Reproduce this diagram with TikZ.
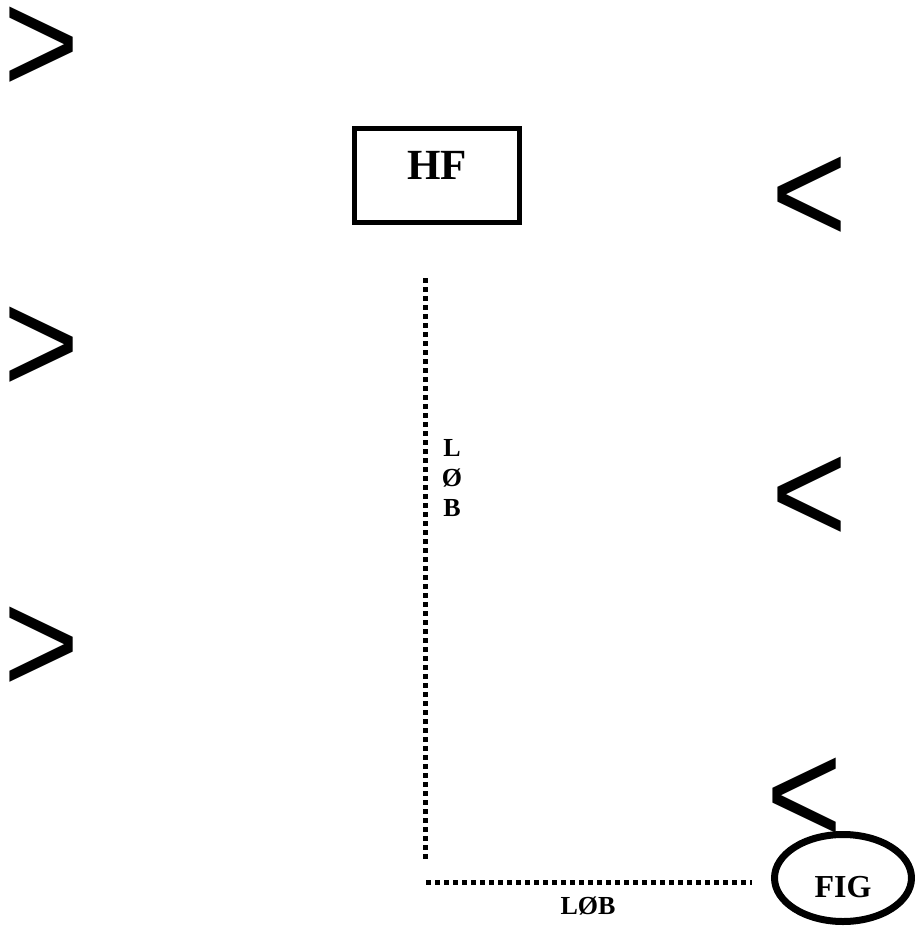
\documentclass[tikz,border=0pt]{standalone}
\usepackage{fontspec}
\setmainfont{Liberation Serif}
\newfontfamily\arrowfont{Liberation Sans}
\usetikzlibrary{shapes.geometric}
\newcommand{\bigglyph}[1]{\scalebox{0.93}[1.06]{#1}}
\begin{document}
\begin{tikzpicture}[x=1pt,y=-1pt,
  glyph/.style={inner sep=0pt,font=\arrowfont\fontsize{140}{140}\selectfont},
  boxnode/.style={draw,line width=5pt,minimum width=165pt,minimum height=94pt,inner sep=0pt},
  ovalnode/.style={draw,ellipse,line width=7pt,minimum width=137pt,minimum height=87pt,inner sep=0pt},
  dotline/.style={line width=5pt,dash pattern=on 5pt off 4pt},
  lbl/.style={inner sep=0pt,font=\bfseries\fontsize{26}{30}\selectfont,align=center}]
\useasboundingbox (0,0) rectangle (915,930);
% side glyphs
\node[glyph] (g1) at (42,50) {\bigglyph{>}};
\node[glyph] (g2) at (42,350) {\bigglyph{>}};
\node[glyph] (g3) at (42,650) {\bigglyph{>}};
\node[glyph] (g4) at (810,200) {\bigglyph{<}};
\node[glyph] (g5) at (810,500) {\bigglyph{<}};
\node[glyph] (g6) at (805,801) {\bigglyph{<}};
% HF box
\node[boxnode,label={[inner sep=0pt,font=\bfseries\fontsize{43}{43}\selectfont,yshift=10pt]center:HF}] (hf) at (437,175.5) {};
% FIG ellipse
\node[ovalnode] (fig) at (843,878) {};
\node[inner sep=0pt,font=\bfseries\fontsize{32}{32}\selectfont] (figtext) at (843,887) {FIG};
% dotted lines
\coordinate (vtop) at (425,278);
\coordinate (corner) at (425,860);
\coordinate (hleft) at (426,882);
\coordinate (hright) at (752,882);
\draw[dotline] (vtop) -- (corner);
\draw[dotline] (hleft) -- (hright);
% labels
\node[lbl] (vl) at (452,478) {L\\Ø\\B};
\node[lbl] (hl) at (588,906) {LØB};
\end{tikzpicture}
\end{document}
